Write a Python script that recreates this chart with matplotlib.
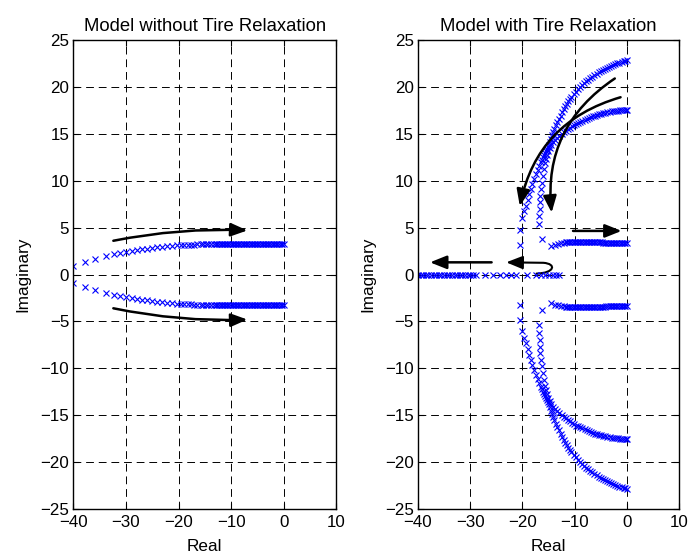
import matplotlib
matplotlib.use("Agg")
import matplotlib.pyplot as plt
from matplotlib.patches import FancyArrowPatch
from matplotlib.path import Path
import numpy as np

plt.rcParams['font.family'] = ['Liberation Sans', 'DejaVu Sans']
plt.rcParams['font.size'] = 12.2

# left panel: complex pair (upper half, lower half is the conjugate)
re_left = [-40.0, -37.8, -35.9, -33.8, -32.2, -31.1, -29.9, -28.9, -27.9, -27.0,
           -26.0, -25.0, -24.1, -23.1, -22.2, -21.2, -20.3, -19.6, -18.9, -18.2,
           -17.6, -17.0, -16.4, -15.8, -15.3, -14.8, -14.3, -13.8, -13.3, -12.9,
           -12.6, -12.3, -12.0, -11.7, -11.4, -11.1, -10.8, -10.5, -10.2, -9.9,
           -9.6, -9.3, -9.0, -8.7, -8.4, -8.1, -7.8, -7.5, -7.2, -6.9,
           -6.6, -6.3, -6.0, -5.7, -5.4, -5.1, -4.8, -4.5, -4.2, -3.9,
           -3.6, -3.3, -3.0, -2.7, -2.4, -2.1, -1.8, -1.5, -1.2, -0.9,
           -0.6, -0.3, 0.0]
im_left = [0.90, 1.33, 1.62, 1.97, 2.15, 2.26, 2.40, 2.50, 2.58, 2.69,
           2.75, 2.83, 2.90, 2.97, 3.00, 3.07, 3.10, 3.13, 3.15, 3.17,
           3.19, 3.20, 3.22, 3.23, 3.24, 3.25, 3.26, 3.27, 3.28, 3.29,
           3.29, 3.30, 3.30, 3.30, 3.30, 3.30, 3.30, 3.30, 3.30, 3.30,
           3.30, 3.30, 3.30, 3.30, 3.30, 3.30, 3.30, 3.30, 3.30, 3.30,
           3.30, 3.30, 3.30, 3.30, 3.30, 3.30, 3.30, 3.30, 3.30, 3.30,
           3.30, 3.30, 3.30, 3.30, 3.30, 3.30, 3.30, 3.30, 3.30, 3.30,
           3.30, 3.30, 3.30]

# right panel: branch ending near +/-22.8
re_a = [-20.5, -20.5, -20.05, -19.7, -19.35, -19.0, -18.7, -18.4, -18.1, -17.75,
        -17.4, -17.1, -16.8, -16.5, -16.3, -16.1, -15.9, -15.7, -15.5, -15.3,
        -15.1, -14.9, -14.7, -14.5, -14.3, -14.1, -13.9, -13.6, -13.3, -13.0,
        -12.7, -12.4, -12.1, -11.8, -11.5, -11.2, -10.9, -10.6, -10.2, -9.8,
        -9.4, -9.0, -8.6, -8.2, -7.8, -7.4, -7.0, -6.6, -6.2, -5.8,
        -5.4, -5.0, -4.6, -4.2, -3.8, -3.4, -3.0, -2.6, -2.2, -1.8,
        -1.4, -1.0, -0.6, -0.3, 0.0]
im_a = [3.2, 4.8, 6.0, 6.8, 7.3, 7.9, 8.6, 9.1, 9.65, 10.2,
        10.7, 11.1, 11.6, 12.0, 12.25, 12.5, 12.75, 13.0, 13.2, 13.4,
        13.55, 13.8, 14.15, 14.5, 14.85, 15.2, 15.55, 15.95, 16.3, 16.6,
        16.95, 17.3, 17.65, 17.95, 18.2, 18.45, 18.7, 18.9, 19.2, 19.5,
        19.75, 20.0, 20.2, 20.4, 20.6, 20.75, 20.95, 21.1, 21.25, 21.4,
        21.55, 21.65, 21.8, 21.9, 22.0, 22.1, 22.2, 22.3, 22.4, 22.5,
        22.6, 22.7, 22.75, 22.8, 22.85]

# right panel: branch ending near +/-17.5
re_b = [-16.2, -16.8, -16.8, -16.7, -16.6, -16.6, -16.45, -16.3, -16.1, -15.9,
        -15.7, -15.5, -15.3, -15.1, -14.8, -14.5, -14.1, -13.7, -13.3, -12.9,
        -12.5, -12.1, -11.7, -11.3, -10.9, -10.5, -10.1, -9.7, -9.3, -8.9,
        -8.5, -8.1, -7.7, -7.3, -6.9, -6.5, -6.1, -5.7, -5.3, -4.9,
        -4.5, -4.1, -3.7, -3.3, -2.9, -2.5, -2.1, -1.7, -1.3, -0.9,
        -0.5, -0.2, 0.0]
im_b = [3.75, 5.36, 6.25, 6.95, 7.7, 8.4, 9.1, 9.8, 10.5, 11.2,
        11.9, 12.3, 12.75, 13.15, 13.5, 13.8, 14.1, 14.35, 14.6, 14.8,
        15.0, 15.15, 15.3, 15.5, 15.65, 15.8, 15.95, 16.1, 16.2, 16.3,
        16.4, 16.5, 16.55, 16.65, 16.75, 16.85, 16.95, 17.0, 17.1, 17.15,
        17.2, 17.25, 17.3, 17.35, 17.4, 17.4, 17.45, 17.45, 17.5, 17.5,
        17.5, 17.5, 17.5]

# right panel: branch near +/-3.4
re_c = [-14.5, -13.8, -13.2, -12.6, -12.1, -11.7, -11.4, -11.1, -10.8, -10.5,
        -10.2, -9.9, -9.6, -9.3, -9.0, -8.7, -8.4, -8.1, -7.8, -7.5,
        -7.2, -6.9, -6.6, -6.3, -6.0, -5.7, -5.4, -5.1, -4.8, -4.5,
        -4.2, -3.9, -3.6, -3.3, -3.0, -2.7, -2.4, -2.1, -1.8, -1.5,
        -1.2, -0.9, -0.6, -0.3, 0.0]
im_c = [3.05, 3.20, 3.30, 3.36, 3.40, 3.42, 3.43, 3.44, 3.45, 3.45,
        3.45, 3.45, 3.45, 3.45, 3.45, 3.45, 3.45, 3.45, 3.45, 3.45,
        3.44, 3.44, 3.44, 3.43, 3.43, 3.43, 3.42, 3.42, 3.42, 3.41,
        3.41, 3.40, 3.40, 3.39, 3.39, 3.38, 3.38, 3.37, 3.37, 3.36,
        3.36, 3.35, 3.35, 3.34, 3.34]

# right panel: real-axis poles
re_real = [-40.0, -39.5, -39.0, -38.5, -38.0, -37.5, -37.0, -36.5, -36.0, -35.5,
           -35.0, -34.5, -34.0, -33.5, -33.0, -32.5, -32.0, -31.5, -31.0, -30.5,
           -30.0, -29.4, -28.8, -27.2, -25.6, -24.3, -23.2, -22.1, -21.3, -19.2,
           -17.3, -16.5, -15.7, -15.0, -14.2, -13.6, -13.0]

x_ticks = [-40, -30, -20, -10, 0, 10]
y_ticks = [-25, -20, -15, -10, -5, 0, 5, 10, 15, 20, 25]

fig = plt.figure(figsize=(6.99, 5.56), dpi=100)
ax1 = fig.add_axes([0.105, 0.0845, 0.376, 0.8435])
ax2 = fig.add_axes([0.598, 0.0845, 0.3734, 0.8435])

mk = dict(ls='none', marker='x', color='#0000ff', ms=5, mew=0.8)


def setup(ax, title):
    ax.set_xlim(-40, 10)
    ax.set_ylim(-25, 25)
    ax.set_xticks(x_ticks)
    ax.set_yticks(y_ticks)
    ax.grid(True, color='k', ls=(0, (8, 5)), lw=0.7)
    ax.tick_params(direction='in', top=True, right=True, length=4, width=0.8)
    ax.tick_params(axis='x', pad=4.5)
    ax.tick_params(axis='y', pad=3.0)
    for s in ax.spines.values():
        s.set_linewidth(1.0)
    ax.set_title(title, pad=6.5, fontsize=13.3)
    ax.set_xlabel('Real', labelpad=6.5, fontsize=12.3)
    ax.set_ylabel('Imaginary', labelpad=7, fontsize=12.3)


def arrow(ax, start, tip, rad=0.0):
    ax.annotate('', xy=tip, xytext=start,
                arrowprops=dict(arrowstyle='-|>,head_length=1.0,head_width=0.4',
                                connectionstyle='arc3,rad=%s' % rad,
                                lw=1.8, color='k', mutation_scale=10,
                                shrinkA=0, shrinkB=0))


# left panel
setup(ax1, 'Model without Tire Relaxation')
ax1.plot(re_left, im_left, **mk)
ax1.plot(re_left, -np.array(im_left), **mk)
arrow(ax1, (-32.4, 3.6), (-6.9, 4.7), rad=-0.06)
arrow(ax1, (-32.4, -3.6), (-6.9, -4.8), rad=0.06)

# right panel
setup(ax2, 'Model with Tire Relaxation')
for re, im in [(re_a, im_a), (re_b, im_b), (re_c, im_c)]:
    ax2.plot(re, im, **mk)
    ax2.plot(re, -np.array(im), **mk)
ax2.plot(re_real, np.zeros(len(re_real)), **mk)

arrow(ax2, (-2.3, 20.9), (-14.4, 6.6), rad=0.3)
arrow(ax2, (-1.2, 18.9), (-20.5, 7.3), rad=0.3)
arrow(ax2, (-10.3, 4.65), (-1.0, 4.65))
arrow(ax2, (-25.9, 1.3), (-37.7, 1.3))

hook = Path([(-17.3, 0.1), (-13.8, 0.15), (-13.4, 1.15), (-16.0, 1.25), (-23.1, 1.3)],
            [Path.MOVETO, Path.CURVE4, Path.CURVE4, Path.CURVE4, Path.LINETO])
ax2.add_patch(FancyArrowPatch(path=hook,
                              arrowstyle='-|>,head_length=1.0,head_width=0.4',
                              lw=1.5, color='k', mutation_scale=10))

fig.savefig('out.png', dpi=100)
